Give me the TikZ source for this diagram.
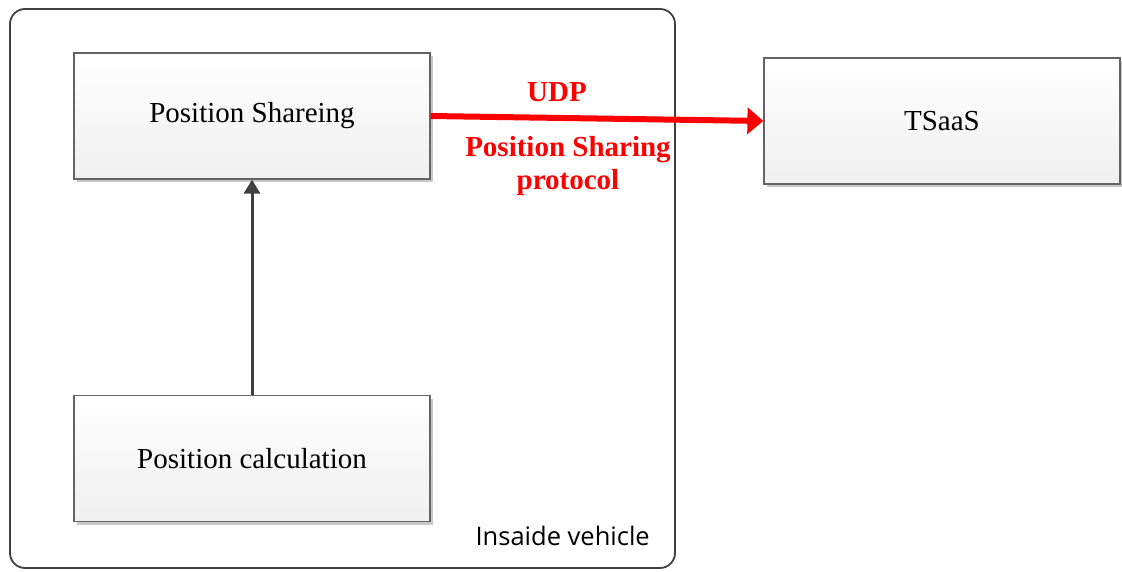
\documentclass[tikz,border=0pt]{standalone}
\usepackage{fontspec}
\setmainfont{Liberation Serif}
\newfontfamily\labelsans{Open Sans}
\usetikzlibrary{shadows,arrows.meta}
\definecolor{boxline}{HTML}{646464}
\definecolor{frameline}{HTML}{404040}
\definecolor{arrowgray}{HTML}{404040}
\definecolor{shadowgray}{HTML}{C8C8C8}
\begin{document}
\begin{tikzpicture}[x=1pt,y=-1pt,
  blockbox/.style={rectangle, draw=boxline, line width=1.2pt,
    top color=white, bottom color=black!6,
    minimum width=356pt, minimum height=126pt, inner sep=0pt,
    drop shadow={shadow xshift=3pt, shadow yshift=-3pt, fill=shadowgray, opacity=1},
    font=\fontsize{29}{33}\selectfont},
  container/.style={rectangle, draw=frameline, line width=1.8pt, rounded corners=15pt,
    minimum width=665pt, minimum height=559pt, inner sep=0pt},
  redlbl/.style={text=red, font=\bfseries\fontsize{29}{33}\selectfont, align=center, inner sep=0pt},
  flow/.style={draw=arrowgray, line width=3pt, -{Triangle[length=14pt,width=16pt]}},
  redflow/.style={draw=red, line width=6pt, -{Triangle[length=16pt,width=26pt]}}
]
\useasboundingbox (0,0) rectangle (1122,571);
\node[container] (vehicle) at (342.5,288.5) {};
\node[blockbox] (share) at (252,116) {Position Shareing};
\node[blockbox] (calc) at (252,458.5) {Position calculation};
\node[blockbox] (tsaas) at (942,121) {TSaaS};
\node[anchor=south east, inner sep=0pt, font=\labelsans\fontsize{25.5}{30}\selectfont]
  (vlabel) at (650,546) {Insaide vehicle};
\draw[flow] (calc.north) -- (share.south);
\draw[redflow] (share.east) -- (tsaas.west);
\node[redlbl] (udp) at (557,92) {UDP};
\node[redlbl] (psp) at (568,166) {Position Sharing\\protocol};
\end{tikzpicture}
\end{document}
